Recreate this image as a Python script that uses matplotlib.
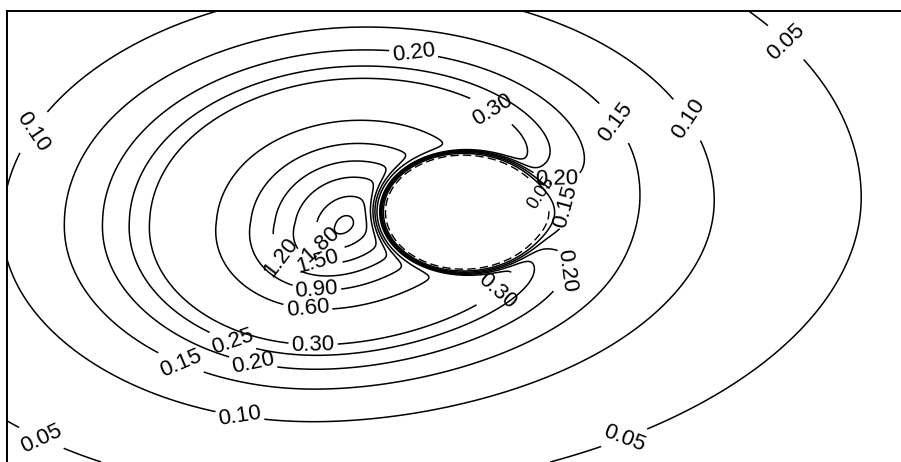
import numpy as np
import matplotlib
matplotlib.use("Agg")
import matplotlib.pyplot as plt

# contour levels as printed on the chart
levels = [0.10, 0.15, 0.20, 0.25, 0.30, 0.60, 0.90, 1.20, 1.50, 1.80, 1.96]
outer_level = 0.05

# field model (pixel units of the scan)
peak_xy = (344, 226)
far_y = 212
peak_amp = 1.98
core = 91.0
decay = 2.2
body_xy = (461, 212)
body_ab = (86, 62)

# where the labels sit on each group of lines
main_spots = [(30, 130), (690, 118), (240, 415),
              (625, 115), (182, 360), (570, 205),
              (415, 42), (253, 363), (557, 175), (565, 270),
              (233, 340),
              (495, 105), (313, 347), (500, 295),
              (308, 305), (317, 285), (280, 258), (318, 262), (322, 243)]
far_spots = [(760, 70), (45, 430), (625, 440)]
near_spots = [(538, 195)]

x = np.arange(7, 902, 1.0)
y = np.arange(11, 463, 1.0)
X, Y = np.meshgrid(x, y)

r0 = np.hypot(X - peak_xy[0], Y - peak_xy[1])
cy = far_y + (peak_xy[1] - far_y) * np.exp(-r0 / 110)
dx = X - peak_xy[0]
dy = Y - cy + 0.028 * dx
shear = np.where(dy > 0, 0.5, 0.25)
dx = dx + shear * dy * np.exp(-r0 / 110)
dx = np.where(dx > 0, 0.92 * dx, dx)
ratio = 0.58 + 0.45 * np.exp(-np.hypot(dx, dy / 0.65) / 110)
ratio = ratio * (1 + 0.045 * (1 - np.tanh(dy / 40)))
q = np.hypot(dx, dy / ratio)
B = peak_amp * (1 + (q / core) ** 2) ** (-decay / 2)

ex = (X - body_xy[0]) / body_ab[0]
ey = (Y - body_xy[1]) / body_ab[1]
rho = np.hypot(ex, ey)
theta = np.arctan2(ey, ex)
d = np.clip(rho - 1, 0, None) * 75
wake = 1 - 0.8 * np.exp(-d / 30) * np.exp(-(theta / 0.7) ** 2)
mask = 1 / (1 + np.exp(-(rho - 1) / 0.035))
Z = B * wake * mask

Zfar = np.ma.masked_where(rho < 1.6, Z)
Znear = np.ma.masked_where(rho >= 1.6, Z)

plt.rcParams['font.family'] = ['Liberation Sans', 'DejaVu Sans']
fig = plt.figure(figsize=(9.01, 4.62), dpi=100)
ax = fig.add_axes([7 / 901, 0, 894 / 901, 451 / 462])

cs = ax.contour(X, Y, Z, levels=levels, colors='black', linewidths=1.1)
cf = ax.contour(X, Y, Zfar, levels=[outer_level], colors='black', linewidths=1.1)
cn = ax.contour(X, Y, Znear, levels=[outer_level], colors='black', linewidths=1.0,
                linestyles=[(0, (6, 3))])

ax.clabel(cs, manual=main_spots, fmt='%.2f', fontsize=16, inline=True, inline_spacing=3)
ax.clabel(cf, manual=far_spots, fmt='%.2f', fontsize=16, inline=True, inline_spacing=3)
ax.clabel(cn, manual=near_spots, fmt='%.2f', fontsize=13, inline=True, inline_spacing=2)

ax.set_xlim(7, 901)
ax.set_ylim(462, 11)
ax.set_xticks([])
ax.set_yticks([])
for side in ['right', 'bottom']:
    ax.spines[side].set_visible(False)
for side in ['left', 'top']:
    ax.spines[side].set_linewidth(1.4)

fig.savefig('out.png', dpi=100)
